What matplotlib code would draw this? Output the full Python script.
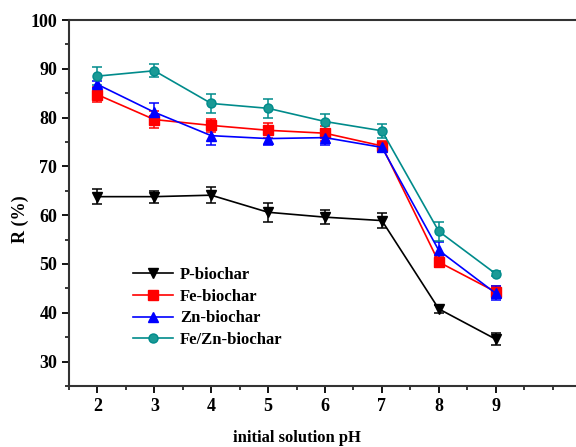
import matplotlib
matplotlib.use("Agg")
import matplotlib.pyplot as plt
from matplotlib.ticker import MultipleLocator
from matplotlib.lines import Line2D

ph = [2, 3, 4, 5, 6, 7, 8, 9]

p_biochar = [63.8, 63.8, 64.1, 60.6, 59.6, 58.9, 40.8, 34.6]
p_err = [1.5, 1.2, 1.6, 1.9, 1.5, 1.5, 0.8, 1.2]

fe_biochar = [84.7, 79.6, 78.4, 77.4, 76.8, 74.2, 50.4, 44.3]
fe_err = [1.5, 1.8, 1.4, 1.5, 1.5, 1.0, 1.0, 1.2]

zn_biochar = [86.8, 81.1, 76.3, 75.7, 75.9, 73.9, 52.8, 44.0]
zn_err = [0.8, 1.8, 1.9, 1.3, 1.6, 1.0, 1.8, 1.4]

fezn_biochar = [88.5, 89.6, 82.9, 81.9, 79.2, 77.3, 56.7, 48.0]
fezn_err = [1.8, 1.3, 1.9, 1.9, 1.6, 1.4, 2.0, 0.5]

plt.rcParams["font.family"] = ["Liberation Serif", "DejaVu Serif"]
plt.rcParams["font.weight"] = "bold"

fig = plt.figure(figsize=(5.76, 4.47), dpi=100)
# right spine sits just past the figure edge, as in the cropped original
ax = fig.add_axes([69 / 576, 1 - 386 / 447, 512 / 576, 366 / 447])

series = [
    ("P-biochar", p_biochar, p_err, "black", "v", "black"),
    ("Fe-biochar", fe_biochar, fe_err, "red", "s", "red"),
    ("Zn-biochar", zn_biochar, zn_err, "blue", "^", "blue"),
    ("Fe/Zn-biochar", fezn_biochar, fezn_err, "#008b8b", "o", "#1a9a96"),
]

handles = []
for name, vals, err, col, mk, face in series:
    ax.errorbar(ph, vals, yerr=err, color=col, marker=mk, markersize=6.5,
                markerfacecolor=face, markeredgecolor=col, linewidth=1.2,
                elinewidth=1.1, capsize=3.5, capthick=1.1)
    handles.append(Line2D([], [], color=col, marker=mk, markersize=6.5,
                          markerfacecolor=face, markeredgecolor=col,
                          linewidth=1.2, label=name))

ax.set_xlim(1.5, 10.5)
ax.set_ylim(25, 100)
ax.xaxis.set_minor_locator(MultipleLocator(0.5))
ax.yaxis.set_minor_locator(MultipleLocator(5))
ax.set_xticks(ph)
ax.set_yticks([30, 40, 50, 60, 70, 80, 90, 100])

ax.tick_params(which="major", direction="out", length=5, width=1.3, labelsize=13)
ax.tick_params(which="minor", direction="out", length=3, width=1.1)
for s in ax.spines.values():
    s.set_linewidth(1.5)
    s.set_color("#333333")

ax.set_ylabel("R (%)", fontsize=13, fontweight="bold")
ax.yaxis.set_label_coords(-0.078, 1 - (219 - 20) / 366)
fig.text(297 / 576, 5 / 447, "initial solution pH", fontsize=12,
         fontweight="bold", ha="center", va="baseline")

ax.legend(handles=handles, loc="lower left", bbox_to_anchor=(0.096, 0.062),
          frameon=False, fontsize=12, handlelength=2.4, handletextpad=0.4,
          labelspacing=0.35)

fig.savefig("out.png", dpi=100)
